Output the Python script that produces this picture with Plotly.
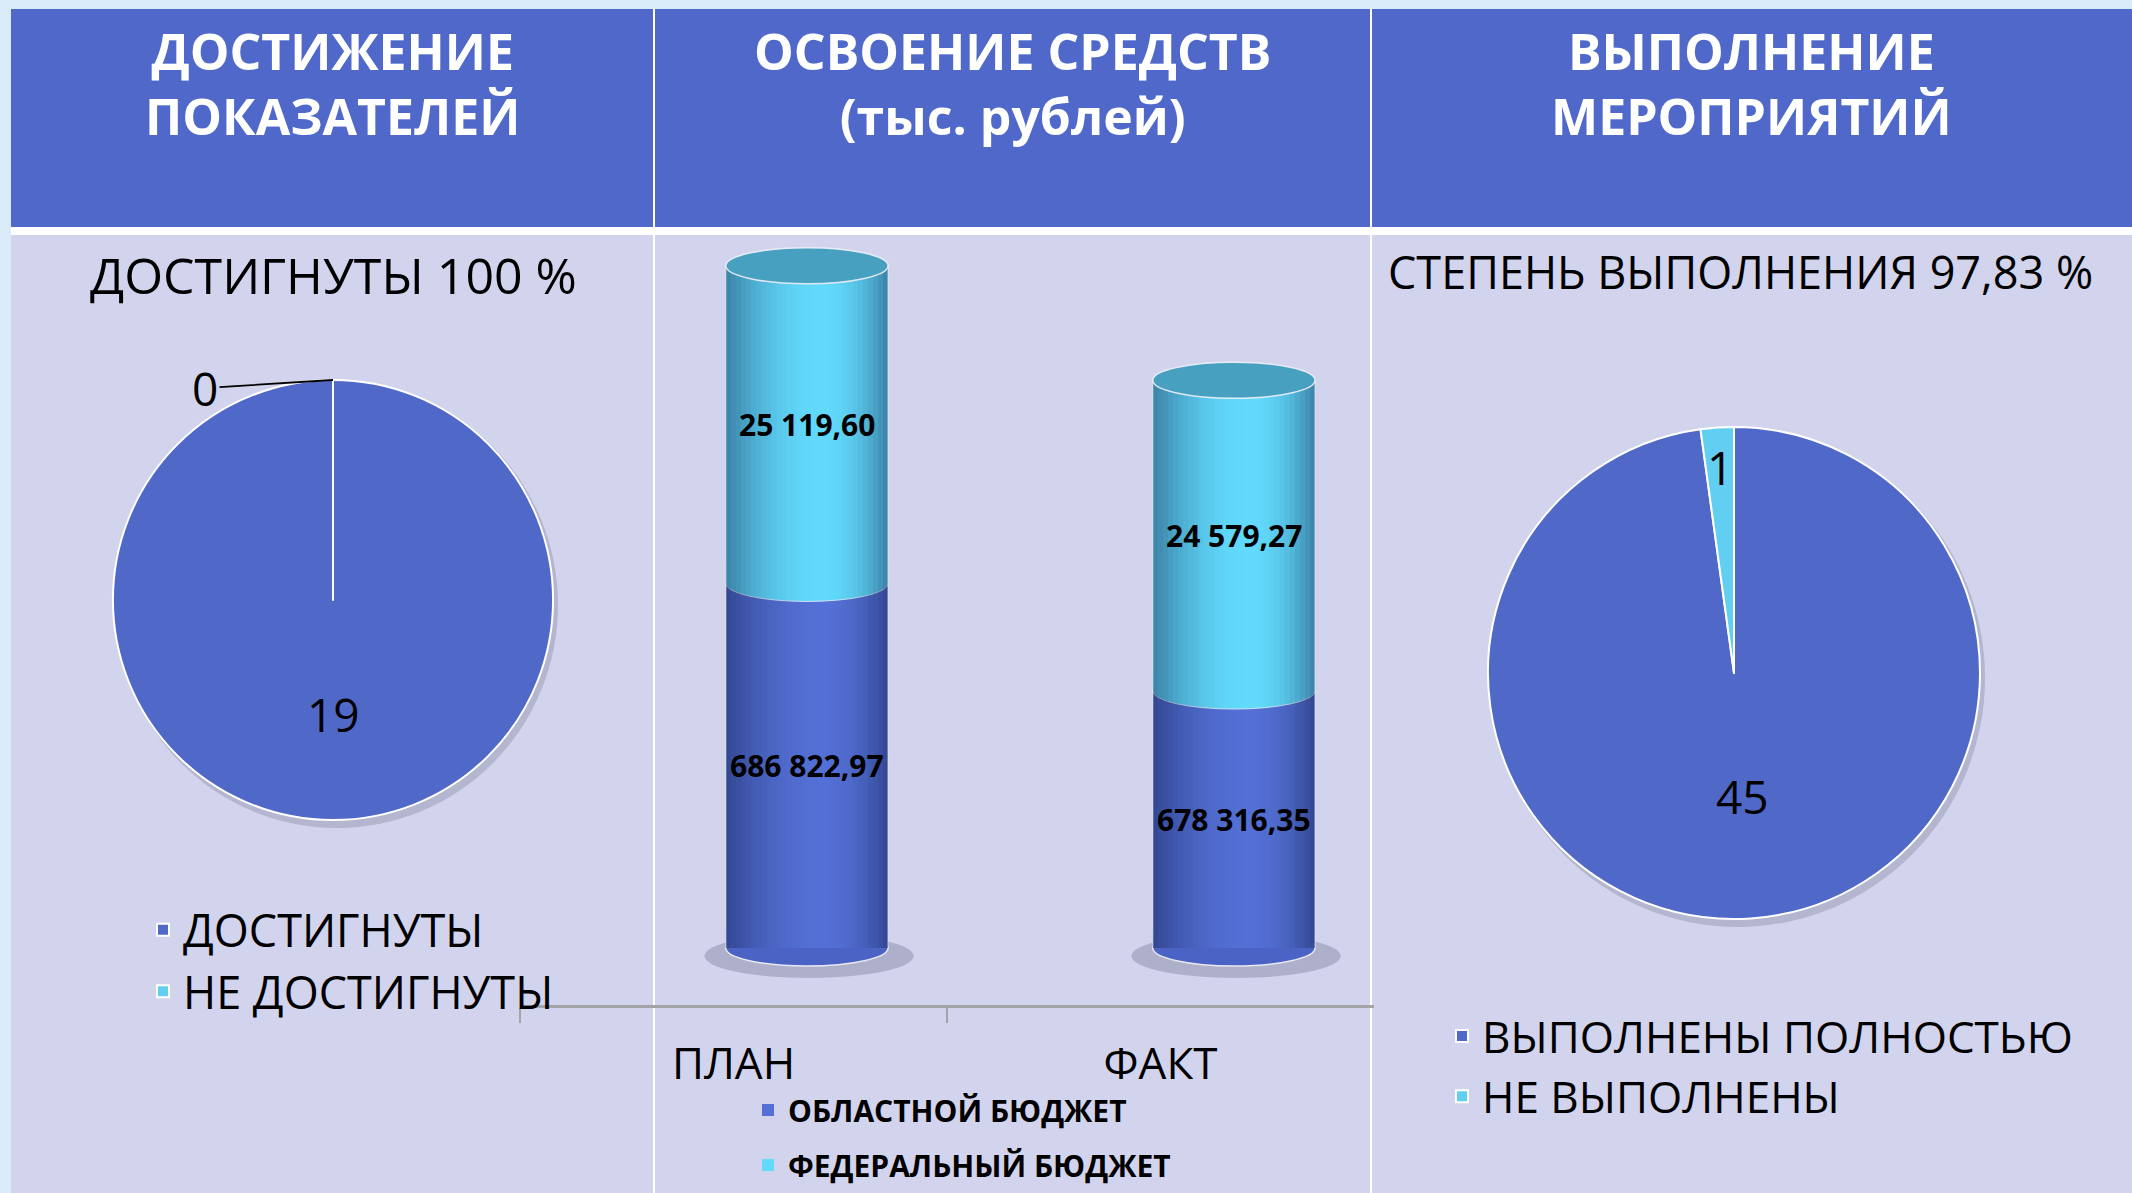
import math
import plotly.graph_objects as go

W, H = 2132, 1193

# ---------------- data ----------------
headers = ["ДОСТИЖЕНИЕ<br>ПОКАЗАТЕЛЕЙ", "ОСВОЕНИЕ СРЕДСТВ<br>(тыс. рублей)", "ВЫПОЛНЕНИЕ<br>МЕРОПРИЯТИЙ"]
subtitles = ["ДОСТИГНУТЫ 100 %", "СТЕПЕНЬ ВЫПОЛНЕНИЯ 97,83 %"]

ind_labels = ["ДОСТИГНУТЫ", "НЕ ДОСТИГНУТЫ"]
ind_values = [19, 0]

act_labels = ["ВЫПОЛНЕНЫ ПОЛНОСТЬЮ", "НЕ ВЫПОЛНЕНЫ"]
act_values = [45, 1]

fin_categories = ["ПЛАН", "ФАКТ"]
fin_series = ["ОБЛАСТНОЙ БЮДЖЕТ", "ФЕДЕРАЛЬНЫЙ БЮДЖЕТ"]
fin_regional = [686822.97, 678316.35]
fin_federal = [25119.60, 24579.27]

# ---------------- style ----------------
FONT = "Open Sans"
BLUE = "#5068c8"
CYAN = "#62cef2"
HEADER = "#4f68c9"
BODY = "#d2d4ed"
CYL_BLUE = "#5470d6"
CYL_CYAN = "#62dafc"
CYL_CAP = "#47a0bf"

def px_x(x):
    return x / W

def px_y(y):
    return 1 - y / H

# pie geometry (pixels)
L_C, L_R = (333, 600), 220
R_C, R_R = (1734, 673), 246

def dom(c, r):
    return dict(x=[px_x(c[0] - r), px_x(c[0] + r)], y=[px_y(c[1] + r), px_y(c[1] - r)])

# bar geometry
BW, BOFF = 0.38, -0.018
Y_RANGE = [658000, 714300]
X_DOM = [px_x(520), px_x(1374)]
Y_DOM = [px_y(948), px_y(236)]

fig = go.Figure()

fig.add_trace(go.Pie(
    labels=ind_labels, values=ind_values, sort=False, direction="clockwise", rotation=0,
    marker=dict(colors=[BLUE, CYAN], line=dict(color="white", width=2)),
    textinfo="none", domain=dom(L_C, L_R), legend="legend", hoverinfo="label+value",
))
fig.add_trace(go.Pie(
    labels=act_labels, values=act_values, sort=False, direction="clockwise", rotation=0,
    marker=dict(colors=[BLUE, CYAN], line=dict(color="white", width=2)),
    textinfo="none", domain=dom(R_C, R_R), legend="legend2", hoverinfo="label+value",
))

for name, vals, col, grp in [(fin_series[0], fin_regional, CYL_BLUE, "g1"),
                             (fin_series[1], fin_federal, CYL_CYAN, "g2")]:
    fig.add_trace(go.Bar(
        x=fin_categories, y=vals, name=name, width=BW, offset=BOFF,
        marker=dict(color=col, line=dict(width=0)), textposition="none",
        legend="legend3", legendgroup=grp, xaxis="x", yaxis="y",
    ))

# ---------------- shapes ----------------
shapes = []
# background panels
shapes.append(dict(type="rect", xref="paper", yref="paper", x0=px_x(11), x1=1, y0=0, y1=px_y(9),
                   fillcolor="white", line_width=0, layer="below"))
shapes.append(dict(type="rect", xref="paper", yref="paper", x0=px_x(11), x1=1, y0=px_y(227), y1=px_y(9),
                   fillcolor=HEADER, line_width=0, layer="below"))
shapes.append(dict(type="rect", xref="paper", yref="paper", x0=px_x(11), x1=1, y0=0, y1=px_y(235),
                   fillcolor=BODY, line_width=0, layer="below"))
for xd in (654, 1371):
    shapes.append(dict(type="line", xref="paper", yref="paper", x0=px_x(xd), x1=px_x(xd), y0=0, y1=px_y(9),
                       line=dict(color="white", width=2), layer="below"))

# pie shadows
for c, r in [(L_C, L_R), (R_C, R_R)]:
    shapes.append(dict(type="circle", xref="paper", yref="paper",
                       x0=px_x(c[0] - r + 3), x1=px_x(c[0] + r + 5), y0=px_y(c[1] + r + 8), y1=px_y(c[1] - r + 2),
                       fillcolor="rgba(90,90,120,0.25)", line_width=0, layer="below"))

totals = [a + b for a, b in zip(fin_regional, fin_federal)]
for i in range(len(fin_categories)):
    xl = i + BOFF
    xr = i + BOFF + BW
    # floor shadow
    shapes.append(dict(type="circle", xref="x", yref="paper", ysizemode="pixel", yanchor=Y_DOM[0],
                       x0=xl - 0.05, x1=xr + 0.06, y0=-30, y1=14,
                       fillcolor="rgba(110,110,140,0.35)", line_width=0, layer="below"))
    # bottom of cylinder
    shapes.append(dict(type="circle", xref="x", yref="paper", ysizemode="pixel", yanchor=Y_DOM[0],
                       x0=xl, x1=xr, y0=-18, y1=18, fillcolor="#4b63c4",
                       line=dict(color="#e8e8f0", width=1.5), layer="above"))
    shapes.append(dict(type="rect", xref="x", yref="paper", ysizemode="pixel", yanchor=Y_DOM[0],
                       x0=xl, x1=xr, y0=0, y1=20, fillcolor=CYL_BLUE, line_width=0, layer="above"))
    # boundary between segments
    shapes.append(dict(type="circle", xref="x", yref="y", ysizemode="pixel", yanchor=fin_regional[i],
                       x0=xl, x1=xr, y0=-18, y1=18, fillcolor=CYL_CYAN,
                       line=dict(color="rgba(255,255,255,0.7)", width=1), layer="above"))
    shapes.append(dict(type="rect", xref="x", yref="y", ysizemode="pixel", yanchor=fin_regional[i],
                       x0=xl, x1=xr, y0=0, y1=20, fillcolor=CYL_CYAN, line_width=0, layer="above"))
    # cylindrical shading strips
    N = 32
    for k in range(N):
        t = (k + 0.5) / N
        if t < 0.6:
            d = 0.45 * ((0.6 - t) / 0.6) ** 2
        else:
            d = 0.45 * ((t - 0.6) / 0.4) ** 2
        shapes.append(dict(type="rect", xref="x", yref="y",
                           x0=xl + BW * k / N, x1=xl + BW * (k + 1) / N,
                           y0=Y_RANGE[0], y1=totals[i],
                           fillcolor=f"rgba(10,20,60,{d:.3f})", line_width=0, layer="above"))
    # side edges
    for xe in (xl, xr):
        shapes.append(dict(type="line", xref="x", yref="y", x0=xe, x1=xe, y0=Y_RANGE[0], y1=totals[i],
                           line=dict(color="rgba(235,235,245,0.8)", width=1), layer="above"))
    # top cap
    shapes.append(dict(type="circle", xref="x", yref="y", ysizemode="pixel", yanchor=totals[i],
                       x0=xl, x1=xr, y0=-18, y1=18, fillcolor=CYL_CAP,
                       line=dict(color="rgba(240,240,250,0.9)", width=1.5), layer="above"))

# white radial line in the left pie (boundary of zero slice)
shapes.append(dict(type="line", xref="paper", yref="paper",
                   x0=px_x(L_C[0]), x1=px_x(L_C[0]), y0=px_y(L_C[1]), y1=px_y(L_C[1] - L_R),
                   line=dict(color="white", width=2), layer="above"))

# ---------------- annotations ----------------
ann = []
for txt, xc in zip(headers, [332, 1012, 1751]):
    ann.append(dict(text=f"<b>{txt}</b>", xref="paper", yref="paper", x=px_x(xc), y=px_y(84),
                    showarrow=False, xanchor="center", yanchor="middle",
                    font=dict(family=FONT, size=50, color="white")))
ann.append(dict(text=subtitles[0], xref="paper", yref="paper", x=px_x(333), y=px_y(275),
                showarrow=False, xanchor="center", yanchor="middle",
                font=dict(family=FONT, size=50, color="black")))
ann.append(dict(text=subtitles[1], xref="paper", yref="paper", x=px_x(1740), y=px_y(272),
                showarrow=False, xanchor="center", yanchor="middle",
                font=dict(family=FONT, size=45, color="black")))

def pie_point(c, r, ang, f):
    a = math.radians(ang)
    return px_x(c[0] + f * r * math.sin(a)), px_y(c[1] - f * r * math.cos(a))

def pie_labels(c, r, values, fracs, arrows):
    tot = sum(values)
    cum = 0
    for v, f, arr in zip(values, fracs, arrows):
        mid = 360 * (cum + v / 2) / tot
        cum += v
        x, y = pie_point(c, r, mid, f)
        if arr:
            ann.append(dict(text=str(v), xref="paper", yref="paper", x=x, y=y, showarrow=True,
                            ax=-128, ay=8, arrowhead=0, arrowwidth=1.8, arrowcolor="black",
                            font=dict(family=FONT, size=46, color="black")))
        else:
            ann.append(dict(text=str(v), xref="paper", yref="paper", x=x, y=y, showarrow=False,
                            xanchor="center", yanchor="middle",
                            font=dict(family=FONT, size=46, color="black")))

pie_labels(L_C, L_R, ind_values, [0.52, 1.0], [False, True])
pie_labels(R_C, R_R, act_values, [0.5, 0.84], [False, False])

def rus(v):
    return f"{v:,.2f}".replace(",", " ").replace(".", ",")

for i in range(len(fin_categories)):
    xc = i + BOFF + BW / 2
    ann.append(dict(text=f"<b>{rus(fin_regional[i])}</b>", xref="x", yref="y", x=xc,
                    y=(Y_RANGE[0] + fin_regional[i]) / 2, showarrow=False,
                    font=dict(family=FONT, size=30, color="black")))
    ann.append(dict(text=f"<b>{rus(fin_federal[i])}</b>", xref="x", yref="y", x=xc,
                    y=fin_regional[i] + fin_federal[i] / 2, showarrow=False,
                    font=dict(family=FONT, size=30, color="black")))

fig.update_layout(
    width=W, height=H, margin=dict(l=0, r=0, t=0, b=0),
    paper_bgcolor="#d9ebf9", plot_bgcolor="rgba(0,0,0,0)",
    separators=", ",
    barmode="stack",
    shapes=shapes, annotations=ann,
    xaxis=dict(domain=X_DOM, anchor="free", position=px_y(1006), showgrid=False, zeroline=False,
               showline=True, linecolor="#a4a4a8", linewidth=3, ticks="outside", tickson="boundaries",
               ticklen=15, tickwidth=2, tickcolor="#a4a4a8", ticklabelstandoff=18,
               tickfont=dict(family=FONT, size=44, color="black"), fixedrange=True),
    yaxis=dict(domain=Y_DOM, range=Y_RANGE, visible=False, fixedrange=True),
    legend=dict(x=px_x(143), y=px_y(894), xanchor="left", yanchor="top", bgcolor="rgba(0,0,0,0)",
                font=dict(family=FONT, size=45, color="black")),
    legend2=dict(x=px_x(1442), y=px_y(1001), xanchor="left", yanchor="top", bgcolor="rgba(0,0,0,0)",
                 font=dict(family=FONT, size=44, color="black")),
    legend3=dict(x=px_x(748), y=px_y(1084), xanchor="left", yanchor="top", bgcolor="rgba(0,0,0,0)",
                 traceorder="grouped", tracegroupgap=13, itemwidth=30,
                 font=dict(family=FONT, size=30, color="black", weight="bold")),
    showlegend=True,
)

fig.write_html("out.html", config={"displayModeBar": False},
               post_script="document.body.style.margin='0';document.body.style.overflow='hidden';")
